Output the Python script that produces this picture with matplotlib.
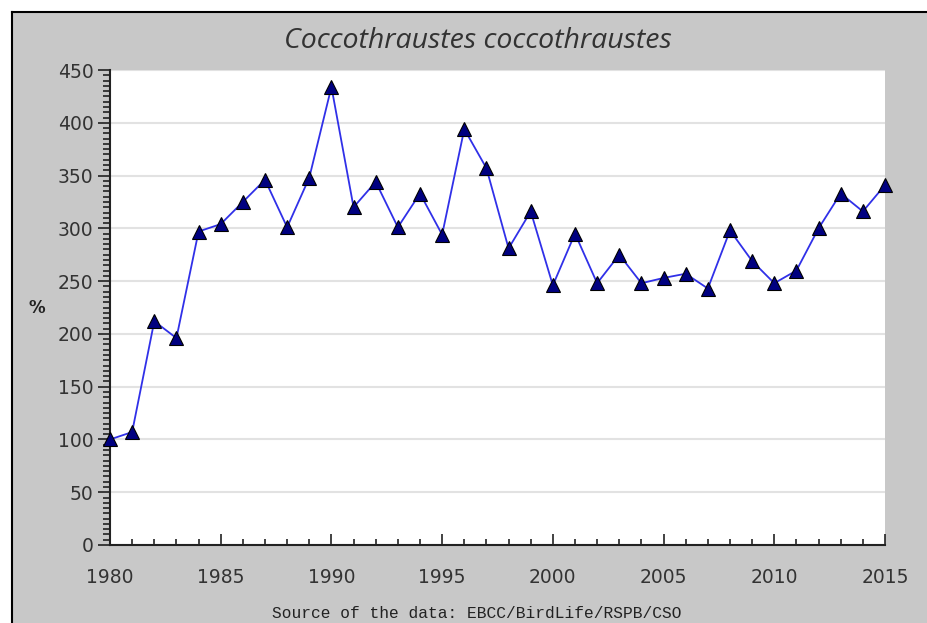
import numpy as np
import matplotlib
matplotlib.use("Agg")
import matplotlib.pyplot as plt
from matplotlib.patches import Rectangle
from matplotlib.lines import Line2D
from matplotlib.ticker import MultipleLocator

# Index values (%), 1980 = 100
years = list(range(1980, 2016))
values = [100, 107, 212, 196, 297, 304, 325, 346, 301, 348,
          434, 320, 344, 301, 333, 294, 394, 357, 281, 316,
          246, 295, 248, 275, 248, 253, 257, 243, 298, 269,
          248, 260, 300, 333, 316, 341]

title = "Coccothraustes coccothraustes"
source = "Source of the data: EBCC/BirdLife/RSPB/CSO"

W, H = 927, 623
fig = plt.figure(figsize=(W / 100, H / 100), dpi=100)
fig.patch.set_facecolor("white")

# grey frame with black top/left edge
fig.patches.append(Rectangle((12 / W, 0), 1 - 12 / W, 1 - 12 / H,
                             transform=fig.transFigure, facecolor="#c8c8c8",
                             edgecolor="none", zorder=-5))
fig.lines.append(Line2D([11.5 / W, 1], [1 - 11.5 / H, 1 - 11.5 / H],
                        transform=fig.transFigure, color="black", lw=1.5, zorder=-4))
fig.lines.append(Line2D([11.5 / W, 11.5 / W], [0, 1 - 11.5 / H],
                        transform=fig.transFigure, color="black", lw=1.5, zorder=-4))

ax = fig.add_axes([110 / W, (H - 545) / H, 775 / W, 475 / H])
ax.set_zorder(2)
ax.set_facecolor("white")

ax.plot(years, values, color="#3030e8", lw=1.3, marker="^", markersize=9.5,
        markerfacecolor="#000080", markeredgecolor="black", markeredgewidth=0.8,
        clip_on=False, zorder=3)

ax.set_xlim(1980, 2015)
ax.set_ylim(0, 450)
ax.xaxis.set_major_locator(MultipleLocator(5))
ax.xaxis.set_minor_locator(MultipleLocator(1))
ax.yaxis.set_major_locator(MultipleLocator(50))
ax.yaxis.set_minor_locator(MultipleLocator(5))

ax.grid(axis="y", which="major", color="#e2e2e2", lw=1.5)
ax.set_axisbelow(True)

for s in ["top", "right"]:
    ax.spines[s].set_visible(False)
for s in ["left", "bottom"]:
    ax.spines[s].set_linewidth(1.5)
    ax.spines[s].set_color("#222222")

ax.tick_params(axis="x", which="major", direction="in", length=8, width=1.2,
               pad=16.5, labelsize=13.5, labelcolor="#333333", color="#222222")
ax.tick_params(axis="x", which="minor", direction="in", length=4, width=1.2,
               color="#222222")
ax.tick_params(axis="y", which="major", direction="out", length=9, width=1.2,
               pad=3, labelsize=13.5, labelcolor="#333333", color="#222222")
ax.tick_params(axis="y", which="minor", direction="out", length=5, width=1.2,
               color="#222222")

fig.text(478 / W, 1 - 41 / H, title, fontsize=20.5, style="italic",
         family="Open Sans", color="#333333", ha="center", va="center")
fig.text(37 / W, 1 - 308 / H, "%", fontsize=12, fontweight="bold",
         color="#222222", ha="center", va="center")
fig.text(477 / W, 1 - 613 / H, source, fontsize=11.7, family="Liberation Mono",
         color="#222222", ha="center", va="center")

fig.savefig("out.png", dpi=100)
